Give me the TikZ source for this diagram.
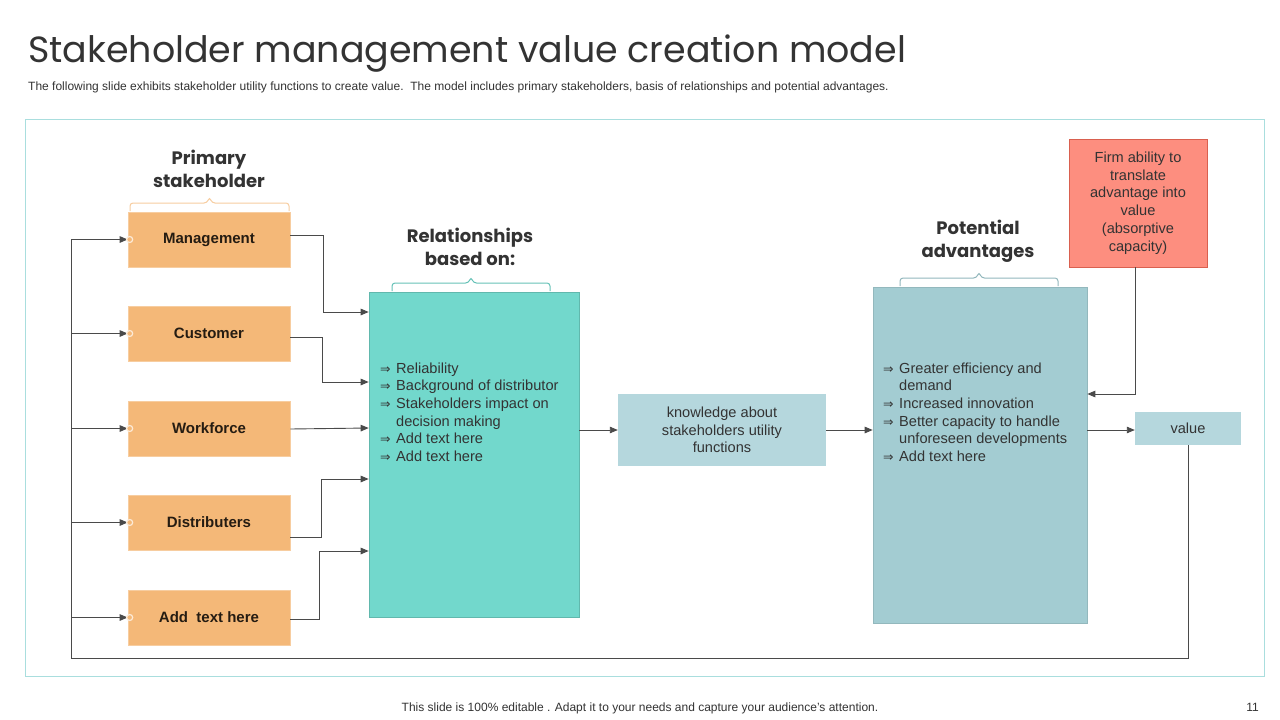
\documentclass[tikz,border=0pt]{standalone}
\usepackage{fontspec}
\setmainfont{Liberation Sans}
\newfontfamily\titlefont{Poppins}
\newfontfamily\dejavu{DejaVu Sans}
\usetikzlibrary{arrows.meta}
\definecolor{orbox}{HTML}{F4B878}
\definecolor{tealbox}{HTML}{72D8CC}
\definecolor{potbox}{HTML}{A3CCD2}
\definecolor{knowbox}{HTML}{B5D7DD}
\definecolor{redbox}{HTML}{FD8E7F}
\definecolor{redline}{HTML}{D9604F}
\definecolor{frame}{HTML}{A9DEDE}
\definecolor{linegray}{HTML}{4A4A4A}
\definecolor{txt}{HTML}{333333}
\newcommand{\mybrace}[4]{%
  \pgfmathsetmacro\bmid{(#1+#2)/2}%
  \draw[#4, line width=1pt, rounded corners=3] (#1,#3+8) -- (#1,#3) -- (\bmid-2.5,#3) -- (\bmid,#3-6) -- (\bmid+2.5,#3) -- (#2,#3) -- (#2,#3+8);}
\newcommand{\arr}{\makebox[16pt][l]{\dejavu\fontsize{12.5}{12}\selectfont ⇒}}
\newcommand{\ind}{\hspace*{16pt}}
\begin{document}
\begin{tikzpicture}[x=1pt,y=-1pt,
  conn/.style={draw=linegray, line width=0.9pt},
  arw/.style={conn, -{Triangle[length=8pt,width=6.5pt]}},
  obox/.style={fill=orbox, draw=orbox!70!white, line width=0.6pt, minimum width=162pt, minimum height=55pt, inner sep=0pt, font=\bfseries\fontsize{15}{16}\selectfont, text=black!85!orbox},
  heading/.style={font=\titlefont\bfseries\fontsize{18}{23}\selectfont, text=txt, align=center},
  body/.style={font=\fontsize{14.6}{17.6}\selectfont, text=txt},
  dot/.style={circle, fill=orbox, draw=white!70!orbox, line width=1.2pt, inner sep=0pt, minimum size=6pt}
]
\useasboundingbox (0,0) rectangle (1280,720);
\fill[white] (0,0) rectangle (1280,720);

% title and subtitle
\node[anchor=base west, inner sep=0pt, font=\titlefont\fontsize{36.4}{40}\selectfont, text=txt] (title) at (28,62) {Stakeholder management value creation model};
\node[anchor=base west, inner sep=0pt, font=\fontsize{12}{13}\selectfont, text=txt] (sub) at (28,90) {The following slide exhibits stakeholder utility functions to create value.\ \ The model includes primary stakeholders, basis of relationships and potential advantages.};

% outer frame
\draw[frame, line width=1pt] (25,119) rectangle (1264,676);

% headings
\node[heading] (h1) at (209,169) {Primary\\stakeholder};
\node[heading] (h2) at (470,247) {Relationships\\based on:};
\node[heading] (h3) at (978,241.5) {Potential\\advantages};
\mybrace{130}{289}{203}{orbox!70!white}
\mybrace{392}{550}{283}{tealbox!90!black}
\mybrace{900}{1058}{278}{potbox!90!black}

% stakeholder boxes
\node[obox] (m) at (209,239.5) {Management};
\node[obox] (c) at (209,333.5) {Customer};
\node[obox] (w) at (209,428.5) {Workforce};
\node[obox] (d) at (209,522.5) {Distributers};
\node[obox] (a) at (209,617.5) {Add\ \ text here};

% relationships box
\node[fill=tealbox, draw=tealbox!85!black, line width=0.6pt, minimum width=210pt, minimum height=325pt, inner sep=0pt] (rel) at (474,454.5) {};
\node[body, anchor=north west, align=left, inner sep=0pt] (reltxt) at (380,362.5) {\arr Reliability\\ \arr Background of distributor\\ \arr Stakeholders impact on\\ \ind decision making\\ \arr Add text here\\ \arr Add text here};

% knowledge box
\node[fill=knowbox, minimum width=208pt, minimum height=72pt, inner sep=0pt, body, align=center] (know) at (722,430) {knowledge about\\stakeholders utility\\functions};

% potential box
\node[fill=potbox, draw=potbox!90!black, line width=0.6pt, minimum width=214pt, minimum height=336pt, inner sep=0pt] (pot) at (980,455) {};
\node[body, anchor=north west, align=left, inner sep=0pt] (pottxt) at (883,362.5) {\arr Greater efficiency and\\ \ind demand\\ \arr Increased innovation\\ \arr Better capacity to handle\\ \ind unforeseen developments\\ \arr Add text here};

% red box
\node[fill=redbox, draw=redline, line width=0.8pt, minimum width=138pt, minimum height=128pt, inner sep=0pt, font=\fontsize{14.6}{17.8}\selectfont, text=txt, align=center] (red) at (1138,203) {Firm ability to\\translate\\advantage into\\value\\(absorptive\\capacity)};

% value box
\node[fill=knowbox, minimum width=106pt, minimum height=33pt, inner sep=0pt, body] (val) at (1188,428.5) {value};

% left feedback loop
\draw[conn] (val.south) -- (val.south |- 0,658) -- (71,658) -- (71,239.5);
\foreach \b in {m,c,w,d,a}{
  \draw[arw] (71,0 |- \b.west) -- (\b.west);
  \node[dot] at ([xshift=2pt]\b.west) {};
}

% stakeholder to relationships
\draw[arw] (m.east |- 0,235) -| (323,312) -- (rel.west |- 0,312);
\draw[arw] (c.east |- 0,337) -| (322,382) -- (rel.west |- 0,382);
\draw[arw] (w.east |- 0,429) -- (rel.west |- 0,428);
\draw[arw] (d.east |- 0,537) -| (321,479) -- (rel.west |- 0,479);
\draw[arw] (a.east |- 0,619) -| (319,551) -- (rel.west |- 0,551);

% main flow
\draw[arw] (rel.east |- know.west) -- (know.west);
\draw[arw] (know.east) -- (pot.west |- know.east);
\draw[arw] (pot.east |- 0,430) -- (val.west |- 0,430);
\draw[arw] (1135,0 |- red.south) -- (1135,394) -- (pot.east |- 0,394);

% footer
\node[anchor=base, inner sep=0pt, font=\fontsize{12}{13}\selectfont, text=txt] (foot) at (640,711) {This slide is 100\% editable . Adapt it to your needs and capture your audience's attention.};
\node[anchor=base east, inner sep=0pt, font=\fontsize{12}{13}\selectfont, text=txt] (pg) at (1259,711) {11};
\end{tikzpicture}
\end{document}
